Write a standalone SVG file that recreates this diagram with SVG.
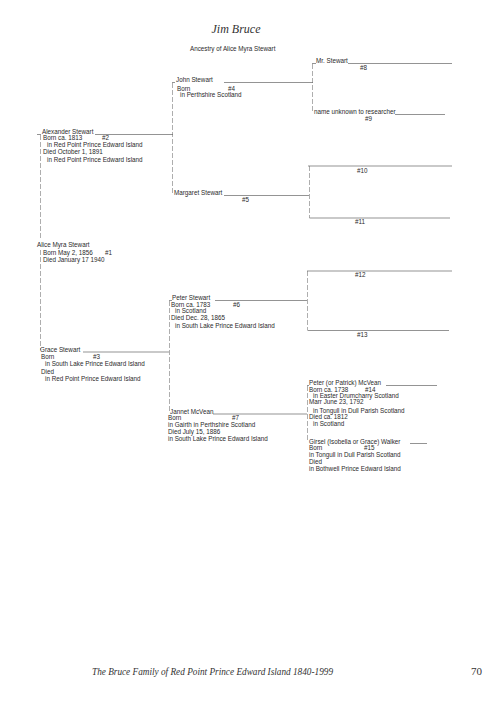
<svg xmlns="http://www.w3.org/2000/svg" width="500" height="720" viewBox="0 0 500 720">
<style>
text{font-family:"Liberation Sans",Arial,sans-serif;font-size:6.3px;fill:#2a2a2a}
text.script{font-family:"Liberation Serif","Times New Roman",serif;font-style:italic;fill:#333}
text.title{font-size:12px}
text.foot{font-size:10px}
text.page{font-size:11px;font-style:normal}
.h{stroke:#666;stroke-width:0.7;fill:none}
.v{stroke:#777;stroke-width:0.6;stroke-dasharray:5 2;fill:none}
</style>
<rect width="500" height="720" fill="#fff"/>
<g id="header">
<text class="script title" x="236" y="33" text-anchor="middle">Jim Bruce</text>
<text x="190" y="51">Ancestry of Alice Myra Stewart</text>
</g>
<g id="connectors">
<path class="h" d="M312 63.5H316M348 63.5H452"/>
<path class="v" d="M312.5 64V113"/>
<path class="h" d="M395 114.5H445"/>
<path class="h" d="M172 82.5H175M224 82.5H313"/>
<path class="v" d="M172.5 83V193"/>
<path class="h" d="M37 134.5H41M95 134.5H173"/>
<path class="h" d="M224 195.5H309"/>
<path class="v" d="M309.5 166V218"/>
<path class="h" d="M308 166H452"/>
<path class="h" d="M309.5 218H450"/>
<path class="v" d="M40.5 135V240"/>
<path class="v" d="M40.5 250V350"/>
<path class="h" d="M83 352H169"/>
<path class="h" d="M169 300.5H172M215 300.5H307"/>
<path class="v" d="M307.5 271V330"/>
<path class="h" d="M307 271H452"/>
<path class="h" d="M307.5 330.5H449"/>
<path class="v" d="M169.5 301V412"/>
<path class="h" d="M213 414H307"/>
<path class="h" d="M307 385.5H309M386 385.5H437"/>
<path class="v" d="M307.5 386V442"/>
<path class="h" d="M410 443.5H427"/>
</g>
<g id="p8"><text x="316" y="63">Mr. Stewart</text><text x="360" y="69.5">#8</text></g>
<g id="p9"><text x="314" y="114">name unknown to researcher</text><text x="365" y="121">#9</text></g>
<g id="p4"><text x="176" y="82">John Stewart</text><text x="177" y="90.5">Born</text><text x="228" y="90.5">#4</text><text x="180" y="97">in Perthshire Scotland</text></g>
<g id="p2"><text x="42" y="134">Alexander Stewart</text><text x="43" y="140">Born ca. 1813</text><text x="102" y="140">#2</text><text x="47" y="147">in Red Point Prince Edward Island</text><text x="43" y="154">Died October 1, 1891</text><text x="47" y="162">in Red Point Prince Edward Island</text></g>
<g id="p5"><text x="174" y="195">Margaret Stewart</text><text x="242" y="202">#5</text></g>
<g id="p10"><text x="357" y="173">#10</text></g>
<g id="p11"><text x="355" y="224">#11</text></g>
<g id="p1"><text x="37" y="247">Alice Myra Stewart</text><text x="43" y="255">Born May 2, 1856</text><text x="105" y="255">#1</text><text x="43" y="262">Died January 17 1940</text></g>
<g id="p12"><text x="355" y="277">#12</text></g>
<g id="p6"><text x="172" y="300">Peter Stewart</text><text x="171" y="306.5">Born ca. 1783</text><text x="233" y="306.5">#6</text><text x="175" y="313">in Scotland</text><text x="171" y="320">Died Dec. 28, 1865</text><text x="175" y="327.5">in South Lake Prince Edward Island</text></g>
<g id="p13"><text x="357" y="337">#13</text></g>
<g id="p3"><text x="40" y="351.5">Grace Stewart</text><text x="41" y="359">Born</text><text x="93" y="359">#3</text><text x="45" y="366">in South Lake Prince Edward Island</text><text x="41" y="374">Died</text><text x="45" y="380.5">in Red Point Prince Edward Island</text></g>
<g id="p7"><text x="170" y="413.5">Jannet McVean</text><text x="168" y="420">Born</text><text x="232" y="420">#7</text><text x="168" y="427">in Gairth in Perthshire Scotland</text><text x="168" y="434">Died July 15, 1886</text><text x="168" y="441">in South Lake Prince Edward Island</text></g>
<g id="p14"><text x="309" y="385">Peter (or Patrick) McVean</text><text x="309" y="391.5">Born ca. 1738</text><text x="365" y="391.5">#14</text><text x="313" y="397.5">in Easter Drumcharry Scotland</text><text x="309" y="404">Marr June 23, 1792</text><text x="313" y="412.5">in Tongull in Dull Parish Scotland</text><text x="309" y="419">Died ca. 1812</text><text x="313" y="426">in Scotland</text></g>
<g id="p15"><text x="309" y="443.5">Girsel (Isobella or Grace) Walker</text><text x="309" y="450">Born</text><text x="364" y="450">#15</text><text x="309" y="457">in Tongull in Dull Parish Scotland</text><text x="309" y="464">Died</text><text x="309" y="471">in Bothwell Prince Edward Island</text></g>
<g id="footer">
<text class="script foot" x="92" y="675" textLength="241" lengthAdjust="spacingAndGlyphs">The Bruce Family of Red Point Prince Edward Island 1840-1999</text>
<text class="script page" x="471" y="675">70</text>
</g>
</svg>
